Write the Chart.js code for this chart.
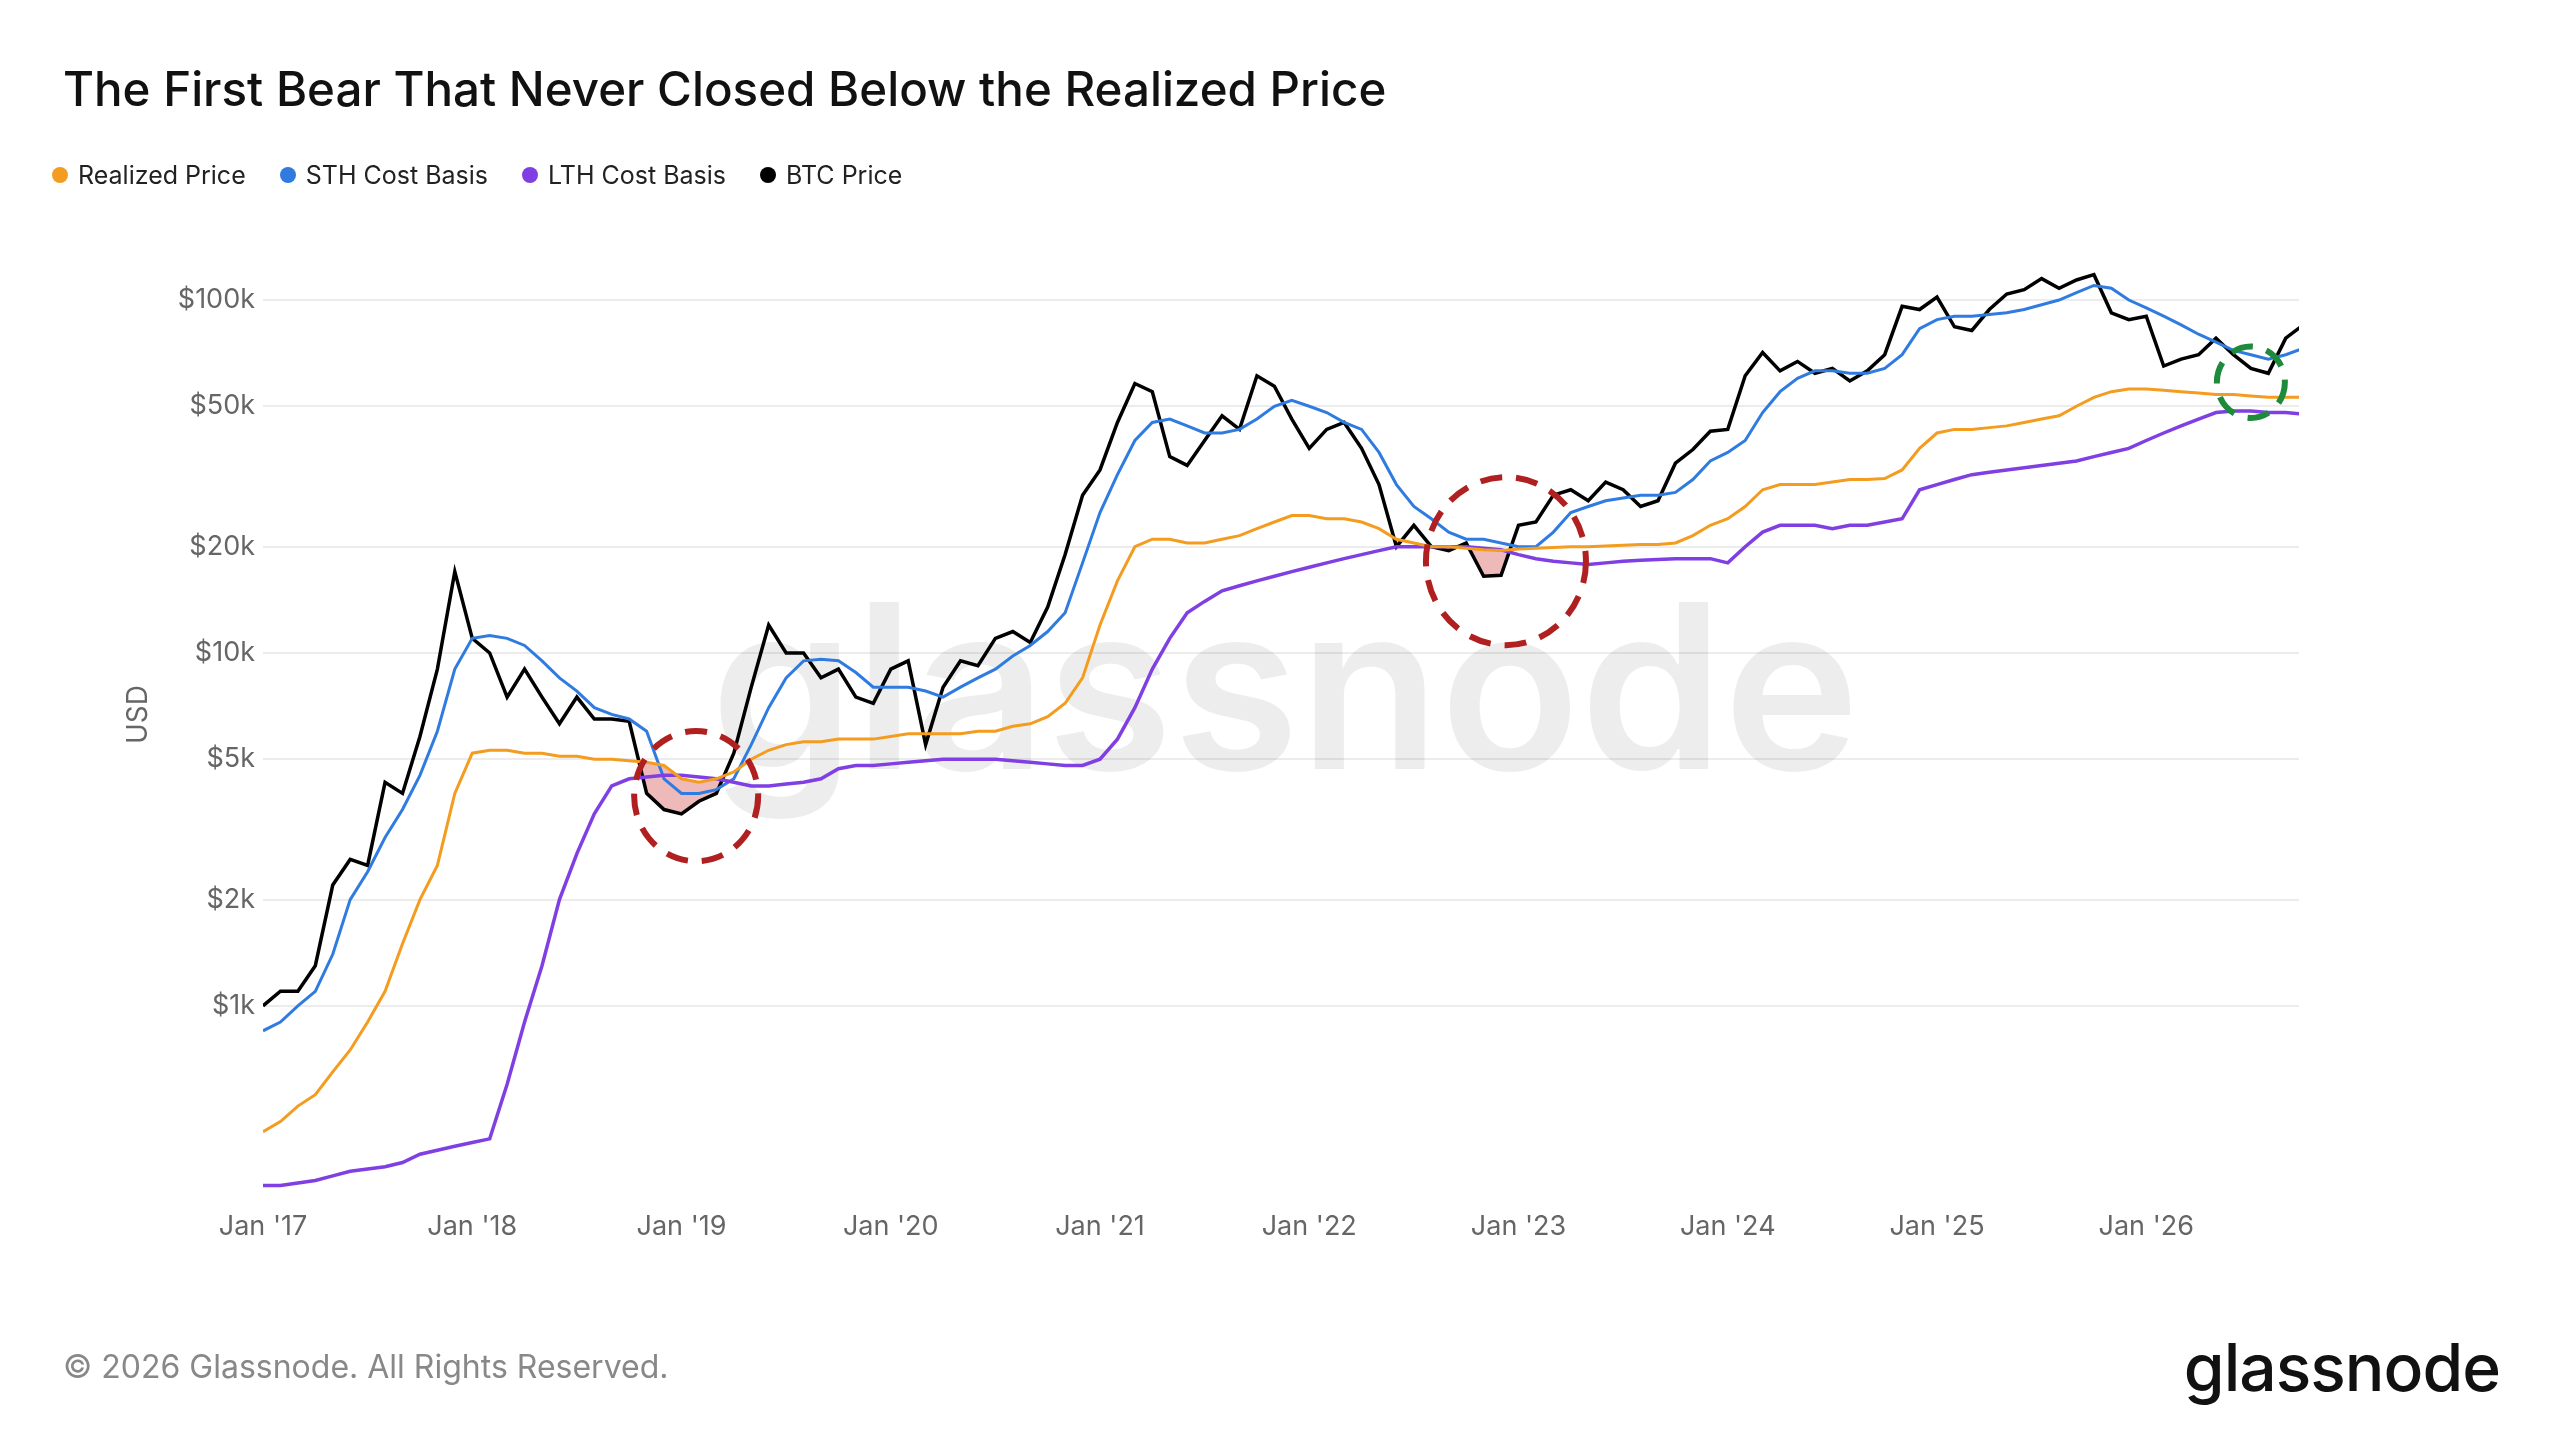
<!DOCTYPE html>
<html><head><meta charset="utf-8">
<script src="https://cdn.jsdelivr.net/npm/chart.js@4"></script>
<style>
html,body{margin:0;padding:0;background:#fff;width:2560px;height:1440px;overflow:hidden;font-family:Inter,"Noto Sans",sans-serif}
#title{position:absolute;left:63px;top:60px;font-size:47.5px;color:#111;font-weight:500}
#legend{position:absolute;left:52px;top:160px;font-size:25px;color:#222;display:flex;gap:34px}
#legend span i{display:inline-block;width:16px;height:16px;border-radius:50%;margin-right:10px;vertical-align:middle;position:relative;top:-2px}
#foot{position:absolute;left:63px;top:1347px;font-size:32px;color:#888}
#logo{position:absolute;right:60px;top:1327px;font-size:66px;color:#111;font-weight:500;letter-spacing:-1px}
#wrap{position:absolute;left:0;top:0;width:2560px;height:1440px}
</style></head><body>
<div id="wrap"><canvas id="c" width="2560" height="1440"></canvas></div>
<div id="title">The First Bear That Never Closed Below the Realized Price</div>
<div id="legend">
<span><i style="background:#f39c1f"></i>Realized Price</span>
<span><i style="background:#2f7be0"></i>STH Cost Basis</span>
<span><i style="background:#7f3fe3"></i>LTH Cost Basis</span>
<span><i style="background:#000"></i>BTC Price</span>
</div>
<div id="foot">© 2026 Glassnode. All Rights Reserved.</div>
<div id="logo">glassnode</div>
<script>
const startYear = 2017;
const yearLabels = ["Jan '17","Jan '18","Jan '19","Jan '20","Jan '21","Jan '22","Jan '23","Jan '24","Jan '25","Jan '26"];
const yTickValues = [1000,2000,5000,10000,20000,50000,100000];
const yTickLabels = ["$1k","$2k","$5k","$10k","$20k","$50k","$100k"];
// monthly values Jan 2017 .. Oct 2026
const btcPrice = [
 1000,1100,1100,1300,2200,2600,2500,4300,4000,5800,9000,17000,
 11000,10000,7500,9000,7500,6300,7500,6500,6500,6400,4000,3600,
 3500,3800,4000,5200,8000,12000,10000,10000,8500,9000,7500,7200,
 9000,9500,5500,8000,9500,9200,11000,11500,10700,13500,19000,28000,
 33000,45000,58000,55000,36000,34000,40000,47000,43000,61000,57000,46000,
 38000,43000,45000,38000,30000,20000,23000,20000,19500,20500,16500,16600,
 23000,23500,28000,29000,27000,30500,29000,26000,27000,34500,37700,42500,
 43000,61000,71000,63000,67000,62000,64000,59000,63000,70000,96000,94000,
 102000,84000,82000,94000,104000,107000,115000,108000,114000,118000,92000,88000,
 90000,65000,68000,70000,78000,70000,64000,62000,78000,85000];
const sthCostBasis = [
 850,900,1000,1100,1400,2000,2400,3000,3600,4500,6000,9000,
 11000,11200,11000,10500,9500,8500,7800,7000,6700,6500,6000,4400,
 4000,4000,4100,4400,5500,7000,8500,9500,9600,9500,8800,8000,
 8000,8000,7800,7500,8000,8500,9000,9800,10500,11500,13000,18000,
 25000,32000,40000,45000,46000,44000,42000,42000,43000,46000,50000,52000,
 50000,48000,45000,43000,37000,30000,26000,24000,22000,21000,21000,20500,
 20000,20000,22000,25000,26000,27000,27500,28000,28000,28500,31000,35000,
 37000,40000,48000,55000,60000,63000,63000,62000,62000,64000,70000,83000,
 88000,90000,90000,91000,92000,94000,97000,100000,105000,110000,108000,100000,
 95000,90000,85000,80000,76000,72000,70000,68000,70000,73000];
const realizedPrice = [
 440,470,520,560,650,750,900,1100,1500,2000,2500,4000,
 5200,5300,5300,5200,5200,5100,5100,5000,5000,4950,4900,4800,
 4400,4300,4400,4600,5000,5300,5500,5600,5600,5700,5700,5700,
 5800,5900,5900,5900,5900,6000,6000,6200,6300,6600,7200,8500,
 12000,16000,20000,21000,21000,20500,20500,21000,21500,22500,23500,24500,
 24500,24000,24000,23500,22500,21000,20500,20000,20000,19800,19600,19500,
 19700,19800,19900,20000,20000,20100,20200,20300,20300,20500,21500,23000,
 24000,26000,29000,30000,30000,30000,30500,31000,31000,31200,33000,38000,
 42000,43000,43000,43500,44000,45000,46000,47000,50000,53000,55000,56000,
 56000,55500,55000,54500,54000,54000,53500,53000,53000,53000];
const lthCostBasis = [
 310,310,315,320,330,340,345,350,360,380,390,400,
 410,420,600,900,1300,2000,2700,3500,4200,4400,4450,4500,
 4500,4450,4400,4300,4200,4200,4250,4300,4400,4700,4800,4800,
 4850,4900,4950,5000,5000,5000,5000,4950,4900,4850,4800,4800,
 5000,5700,7000,9000,11000,13000,14000,15000,15500,16000,16500,17000,
 17500,18000,18500,19000,19500,20000,20000,20000,20000,20000,19800,19600,
 19000,18500,18200,18000,17800,18000,18200,18300,18400,18500,18500,18500,
 18000,20000,22000,23000,23000,23000,22500,23000,23000,23500,24000,29000,
 30000,31000,32000,32500,33000,33500,34000,34500,35000,36000,37000,38000,
 40000,42000,44000,46000,48000,48500,48500,48000,48000,47500];
const circles = [
 {x:2019.07, v:3930, r:62, color:'#b02020'},
 {x:2022.94, v:18200, r:80, color:'#b02020'},
 {x:2026.5, v:58500, r:34, color:'#1e8a3c'}
];
const toPts = arr => arr.map((v,i)=>({x:startYear+i/12, y:v}));
const circlePlugin = {
  id:'circ',
  afterDatasetsDraw(chart){
    const {ctx,scales:{x,y}} = chart;
    ctx.save();
    circles.forEach(c=>{
      ctx.beginPath();
      ctx.setLineDash([22,14]);
      ctx.lineWidth=6;
      ctx.strokeStyle=c.color;
      ctx.ellipse(x.getPixelForValue(c.x), y.getPixelForValue(c.v), c.r, c.r*1.05, 0, 0, Math.PI*2);
      ctx.stroke();
    });
    ctx.restore();
  },
  beforeDatasetsDraw(chart){
    const {ctx} = chart;
    ctx.save();
    ctx.font='600 230px Inter, "Noto Sans", sans-serif';
    ctx.fillStyle='rgba(0,0,0,0.07)';
    ctx.textAlign='center';ctx.textBaseline='middle';
    ctx.fillText('glassnode',1285,700);
    ctx.restore();
  }
};
const ds = (label,data,color,w,extra)=>Object.assign({label,data:toPts(data),borderColor:color,borderWidth:w,pointRadius:0,tension:0,fill:false},extra||{});
new Chart(document.getElementById('c'),{
  type:'line',
  data:{datasets:[
    ds('Realized Price',realizedPrice,'#f39c1f',3),
    ds('LTH Cost Basis',lthCostBasis,'#7f3fe3',3.5),
    ds('STH Cost Basis',sthCostBasis,'#2f7be0',3),
    ds('BTC Price',btcPrice,'#000',3.5,{fill:{target:0,above:'rgba(0,0,0,0)',below:'rgba(215,100,100,0.45)'}})
  ]},
  options:{
    responsive:false,animation:false,devicePixelRatio:1,
    layout:{padding:{top:228,right:261,left:122,bottom:0}},
    plugins:{legend:{display:false},tooltip:{enabled:false}},
    scales:{
      x:{type:'linear',min:2017,max:2026.73,
        grid:{display:false},border:{display:false},
        afterBuildTicks(s){s.ticks=yearLabels.map((_,i)=>({value:startYear+i}));},
        afterFit(s){s.height=239;},
        ticks:{padding:2,color:'#666',font:{size:27,family:'Inter'},maxRotation:0,autoSkip:false,
          callback:(v)=>yearLabels[Math.round(v)-startYear]}},
      y:{type:'logarithmic',min:280,max:160000,
        grid:{color:'#ececec',lineWidth:2,drawTicks:false},border:{display:false},
        afterBuildTicks(s){s.ticks=yTickValues.map(v=>({value:v}));},
        afterFit(s){s.width=141;},
        title:{display:true,text:'USD',color:'#666',font:{size:28,family:'Inter'},padding:0},
        ticks:{padding:8,color:'#666',font:{size:27,family:'Inter'},
          callback:(v)=>yTickLabels[yTickValues.indexOf(v)]}}
    }
  },
  plugins:[circlePlugin]
});
</script>
</body></html>
